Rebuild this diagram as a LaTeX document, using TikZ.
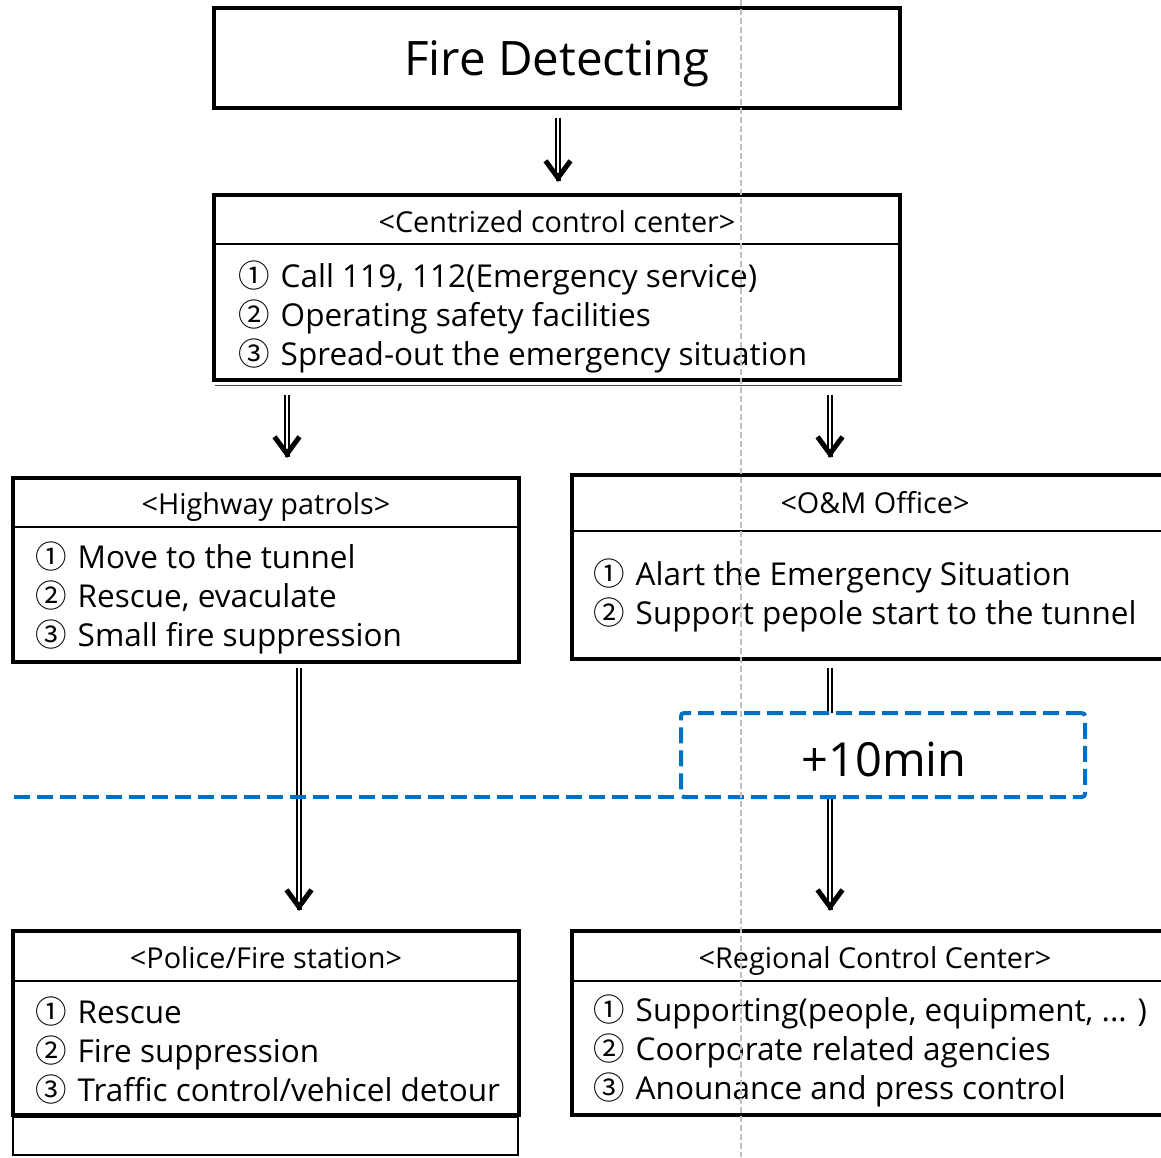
\documentclass[tikz,border=0pt]{standalone}
\usepackage{fontspec}
\setmainfont{Open Sans}
\newfontfamily\cjk{Noto Sans CJK KR}
\usetikzlibrary{arrows.meta,positioning}
\definecolor{dashblue}{RGB}{0,112,192}
\newcommand{\cnum}[1]{{\cjk #1}\hspace{0.35em}}

\tikzset{
  frame/.style={draw, line width=4pt, inner sep=0pt},
  headtext/.style={font=\fontsize{28.8}{32}\selectfont, inner sep=0pt, anchor=base},
  itemtext/.style={font=\fontsize{31.5}{39}\selectfont, align=left, anchor=west, inner sep=0pt},
  shaft/.style={double, double distance=2.5pt, line width=1.3pt, shorten >=8pt},
  tiphead/.style={-{Straight Barb[length=17pt,width=25pt]}, line width=5pt},
  bluedash/.style={dashblue, line width=4pt, dash pattern=on 16pt off 7pt},
}

\begin{document}
\begin{tikzpicture}[x=1pt,y=-1pt]
\useasboundingbox (0,0) rectangle (1161,1157);

% arrows first, boxes sit on top
\coordinate (a1s) at (558,118);  \coordinate (a1e) at (558,182);
\coordinate (a2s) at (287,395);  \coordinate (a2e) at (287,458);
\coordinate (a3s) at (830,395);  \coordinate (a3e) at (830,458);
\coordinate (a4s) at (299,668);  \coordinate (a4e) at (299,911);
\coordinate (a5s) at (830,668);  \coordinate (a5e) at (830,911);
\foreach \a in {a1,a2,a3,a4,a5}{
  \draw[shaft] (\a s) -- (\a e);
  \draw[tiphead] ([yshift=1pt]\a e) -- (\a e);
}

% Fire Detecting
\node[frame, minimum width=686pt, minimum height=100pt] (fire) at (557,58) {};
\node[font=\fontsize{47.5}{52}\selectfont, inner sep=0pt] (firetxt) at (557,64) {Fire Detecting};

% centralized control center
\node[frame, minimum width=686pt, minimum height=185pt] (ccc) at (557,287.5) {};
\draw[line width=1.5pt] (ccc.west |- 0,244) -- (ccc.east |- 0,244);
\draw[line width=1pt, black!70] ([xshift=3pt,yshift=-3.5pt]ccc.south west) -- ([yshift=-3.5pt]ccc.south east);
\node[headtext] (ccchd) at (557,232) {<Centrized control center>};
\node[itemtext] (cccitems) at (238,317)
  {\cnum{①}Call 119, 112(Emergency service)\\
   \cnum{②}Operating safety facilities\\
   \cnum{③}Spread-out the emergency situation};

% Highway patrols
\node[frame, minimum width=506pt, minimum height=184pt] (patrol) at (266,570) {};
\draw[line width=1.5pt] (patrol.west |- 0,527) -- (patrol.east |- 0,527);
\node[headtext] (patrolhd) at (266,514) {<Highway patrols>};
\node[itemtext] (patrolitems) at (35,598)
  {\cnum{①}Move to the tunnel\\
   \cnum{②}Rescue, evaculate\\
   \cnum{③}Small fire suppression};

% O&M Office
\node[frame, minimum width=598pt, minimum height=184pt] (omo) at (871,567) {};
\draw[line width=1.5pt] (omo.west |- 0,531) -- (omo.east |- 0,531);
\node[headtext] (omohd) at (875,513) {<O\&M Office>};
\node[itemtext] (omoitems) at (593,595)
  {\cnum{①}Alart the Emergency Situation\\
   \cnum{②}Support pepole start to the tunnel};

% +10min
\draw[bluedash] (14,797) -- (681,797);
\node[bluedash, draw=dashblue, fill=white, rounded corners=3pt,
      minimum width=404pt, minimum height=84pt] (delay) at (883,755) {};
\node[font=\fontsize{47}{52}\selectfont, inner sep=0pt] (delaytxt) at (884,759) {+10min};

% Police/Fire station
\node[frame, minimum width=506pt, minimum height=184pt] (police) at (266,1023) {};
\draw[line width=1.5pt] (police.west |- 0,981) -- (police.east |- 0,981);
\node[headtext] (policehd) at (266,968) {<Police/Fire station>};
\node[itemtext] (policeitems) at (35,1051)
  {\cnum{①}Rescue\\
   \cnum{②}Fire suppression\\
   \cnum{③}Traffic control/vehicel detour};
\draw[line width=1.5pt] (13,1117) rectangle (518,1155);

% Regional Control Center
\node[frame, minimum width=598pt, minimum height=184pt] (rcc) at (871,1023) {};
\draw[line width=1.5pt] (rcc.west |- 0,981) -- (rcc.east |- 0,981);
\node[headtext] (rcchd) at (875,968) {<Regional Control Center>};
\node[itemtext] (rccitems) at (593,1051)
  {\cnum{①}Supporting(people, equipment, ... )\\
   \cnum{②}Coorporate related agencies\\
   \cnum{③}Anounance and press control};

% gray guide line
\draw[black!25, line width=1.5pt, dash pattern=on 6pt off 3pt] (741,0) -- (741,1157);
\end{tikzpicture}
\end{document}
